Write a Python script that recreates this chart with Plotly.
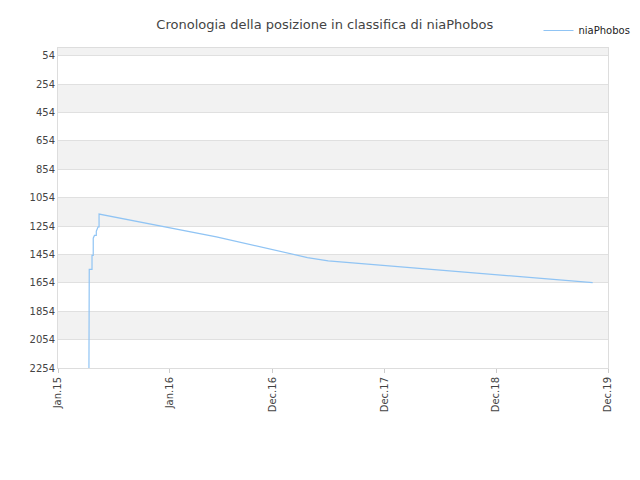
import plotly.graph_objects as go

dates = ["2015-04-12", "2015-04-13", "2015-04-13", "2015-04-22", "2015-04-22", "2015-04-26", "2015-04-26",
         "2015-04-30", "2015-05-06", "2015-05-06", "2015-05-12", "2015-05-15", "2015-05-15",
         "2016-06-01", "2017-03-25", "2017-06-01", "2019-10-12"]
ranks = [2254, 1830, 1560, 1560, 1460, 1460, 1340, 1320, 1320, 1290, 1260, 1260, 1170,
         1330, 1476, 1500, 1652]

tickvals = ["2015-01-01", "2016-01-01", "2016-12-01", "2017-12-01", "2018-12-01", "2019-12-01"]
ticktext = ["Jan.15", "Jan.16", "Dec.16", "Dec.17", "Dec.18", "Dec.19"]
yticks = [54, 254, 454, 654, 854, 1054, 1254, 1454, 1654, 1854, 2054, 2254]

fig = go.Figure()
fig.add_trace(go.Scatter(x=dates, y=ranks, mode="lines", name="niaPhobos",
                         line=dict(color="#90c4f4", width=1.2)))

bands = [(0, 54), (254, 454), (654, 854), (1054, 1254), (1454, 1654), (1854, 2054)]
for a, b in bands:
    fig.add_hrect(y0=a, y1=b, fillcolor="#f2f2f2", line_width=0, layer="below")

fig.update_layout(
    width=640, height=480, margin=dict(l=50, r=40, t=40, b=120, autoexpand=False),
    plot_bgcolor="white", paper_bgcolor="white",
    title=dict(text="Cronologia della posizione in classifica di niaPhobos", x=0.495, y=0.975,
               xanchor="center", font=dict(size=13, color="#444", family="DejaVu Sans")),
    font=dict(family="DejaVu Sans", size=10, color="#444"),
    showlegend=True,
    legend=dict(x=1.05, y=1.1, xanchor="right", yanchor="top", font=dict(size=10, color="#222"),
                bgcolor="rgba(0,0,0,0)"),
    xaxis=dict(type="date", range=["2015-01-01", "2019-12-01"], tickvals=tickvals, ticktext=ticktext,
               tickangle=-90, showgrid=False, showline=True, linecolor="#ddd", ticks="outside",
               ticklen=4, tickcolor="#ccc", mirror=True, automargin=False),
    yaxis=dict(range=[2254, 0], tickvals=yticks, showgrid=True, gridcolor="#e0e0e0",
               showline=True, linecolor="#ddd", mirror=True, zeroline=False, automargin=False),
)
fig.write_html("out.html")
